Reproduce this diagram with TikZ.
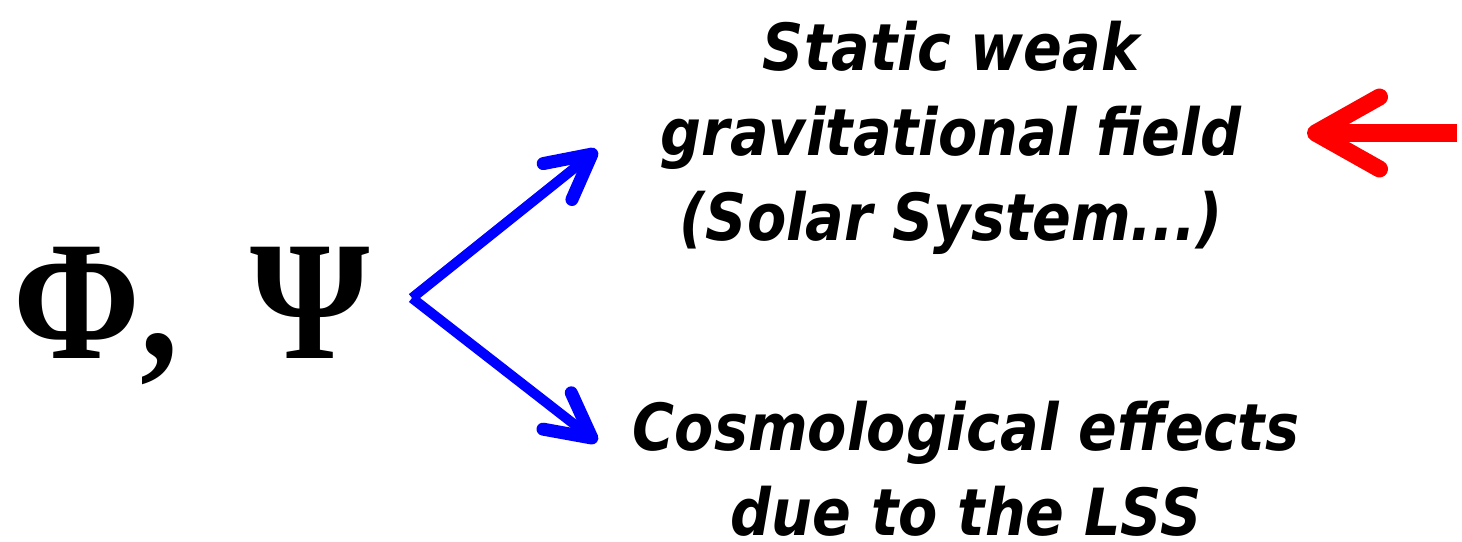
\documentclass[tikz,border=0pt]{standalone}
\usepackage{fontspec}
\setmainfont{DejaVu Sans}
\newfontfamily\greekserif{Liberation Serif}
\usetikzlibrary{arrows.meta}
\newcommand{\handtext}[1]{\scalebox{0.88}[1]{\fontsize{65}{85}\selectfont\bfseries\itshape\begin{tabular}[b]{@{}c@{}}#1\end{tabular}}}
\begin{document}
\begin{tikzpicture}[x=1pt,y=-1pt,
  lbl/.style={inner sep=0pt,anchor=base},
  bluearrow/.style={draw=blue,line width=10pt,-{Straight Barb[length=44pt,width=46pt,line width=13pt,round]}},
  redarrow/.style={draw=red,line width=18pt,-{Straight Barb[length=64pt,width=72pt,line width=17pt,round]}}]
\useasboundingbox (0,0) rectangle (1462,541);
\node[inner sep=0pt,anchor=base west] (phi) at (13,358) {\scalebox{0.9}[1]{\fontsize{170}{170}\selectfont\greekserif\bfseries Φ,\hspace{0.47em}Ψ}};
\coordinate (o) at (412,298);
\node[lbl] (top) at (951,240) {\handtext{Static weak\\gravitational field\\(Solar System...)}};
\node[lbl] (bot) at (966,535) {\handtext{Cosmological effects\\due to the LSS}};
\coordinate (t1) at (597,150);
\coordinate (b1) at (597,442);
\draw[bluearrow] (o) -- (t1);
\draw[bluearrow] (o) -- (b1);
\coordinate (rs) at (1457,133);
\coordinate (re) at (1307,133);
\draw[redarrow] (rs) -- (re);
\end{tikzpicture}
\end{document}
